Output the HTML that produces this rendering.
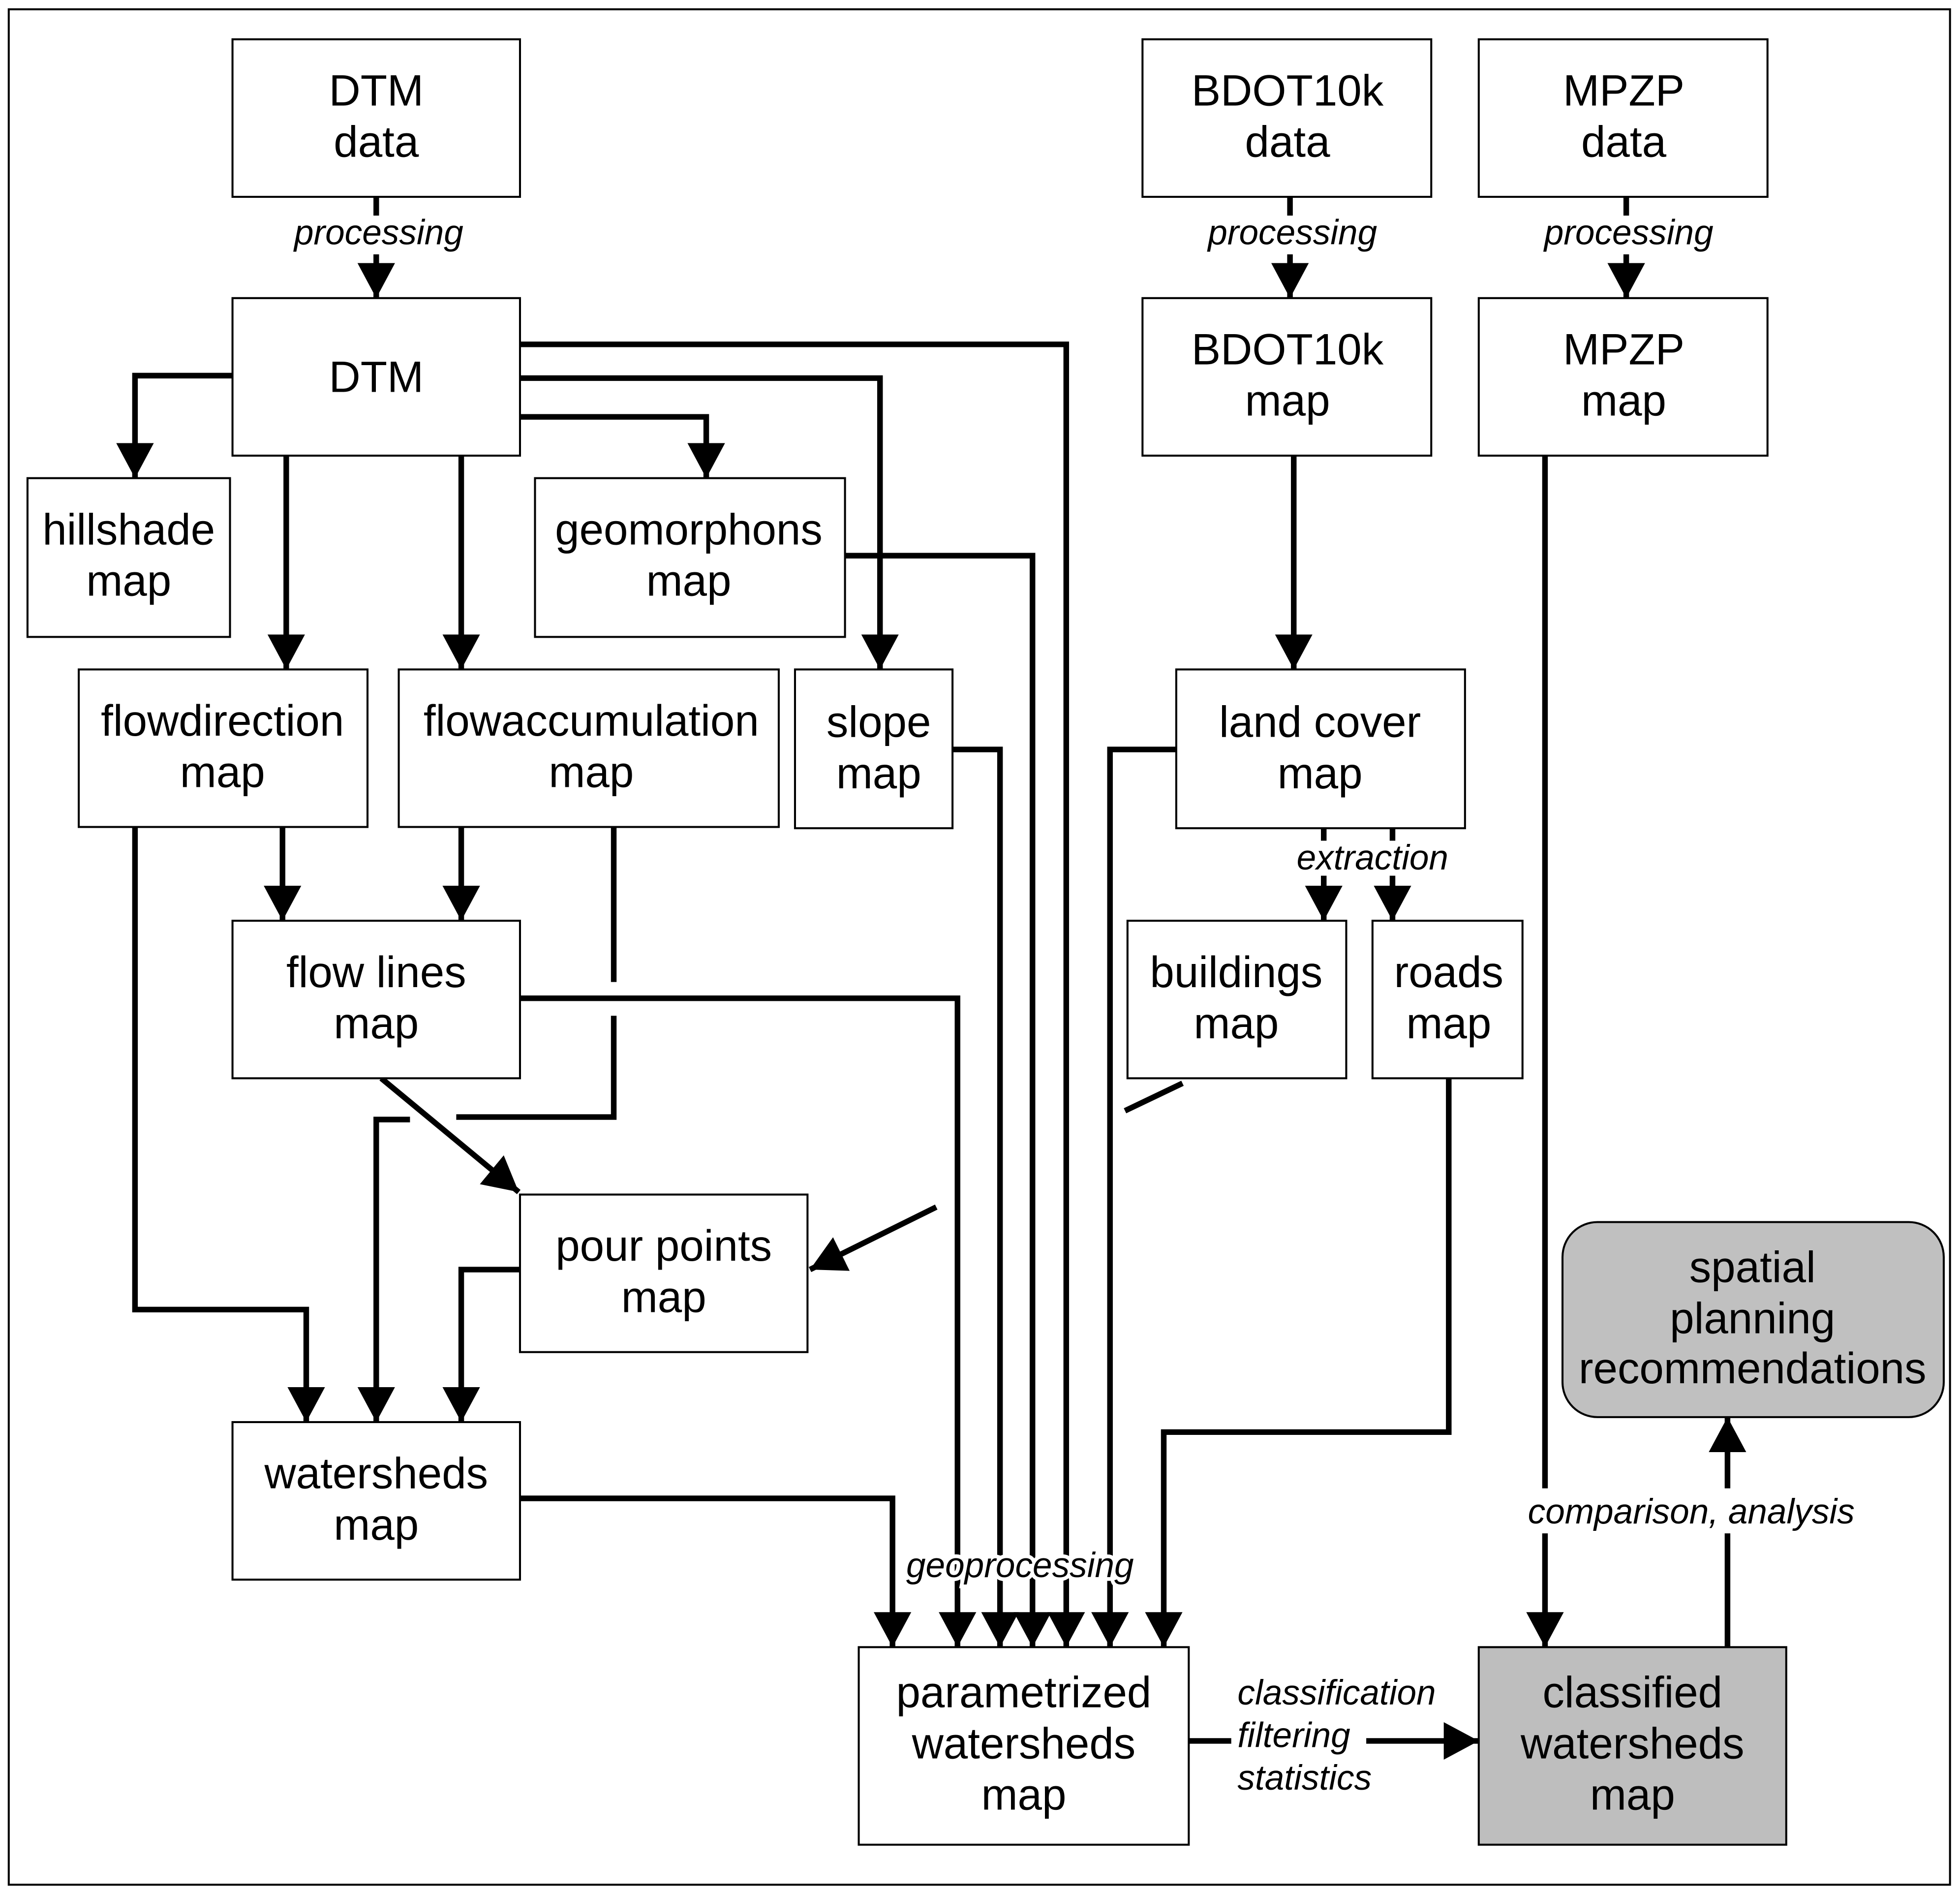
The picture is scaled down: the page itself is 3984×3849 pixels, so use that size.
<!DOCTYPE html>
<html><head><meta charset="utf-8"><style>
html,body{margin:0;padding:0;background:#fff}
svg{display:block}
text{font-family:"Liberation Sans",Arial,sans-serif;fill:#000}
.b{font-size:35px;text-anchor:middle}
.l{font-size:28px;font-style:italic}
.h{stroke:#fff;stroke-width:6px;paint-order:stroke}
.bx{fill:#fff;stroke:#000;stroke-width:1.6}
.ln{fill:none;stroke:#000;stroke-width:4.5;stroke-linejoin:miter;stroke-linecap:butt}
</style></head><body>
<svg width="3984" height="3849" viewBox="0 0 1568 1514" xmlns="http://www.w3.org/2000/svg">
<defs>
<marker id="a" markerUnits="userSpaceOnUse" markerWidth="30" markerHeight="30" refX="28" refY="15" orient="auto" viewBox="0 0 30 30">
<path d="M0,0 L28,15 L0,30 z" fill="#000"/>
</marker>
</defs>
<rect x="0" y="0" width="1568" height="1514" fill="#fff"/>
<rect x="7" y="7" width="1553" height="1500" fill="none" stroke="#000" stroke-width="1.6"/>

<!-- connectors -->
<g class="ln">
<path d="M301,157 V172"/><path d="M301,203 V238" marker-end="url(#a)"/>
<path d="M1032,157 V172"/><path d="M1032,203 V238" marker-end="url(#a)"/>
<path d="M1301,157 V172"/><path d="M1301,203 V238" marker-end="url(#a)"/>

<path d="M186,300 H108 V382" marker-end="url(#a)"/>
<path d="M229,364 V535" marker-end="url(#a)"/>
<path d="M369,364 V535" marker-end="url(#a)"/>
<path d="M416,333 H565 V382" marker-end="url(#a)"/>
<path d="M416,302 H704 V535" marker-end="url(#a)"/>
<path d="M416,275 H853 V1317" marker-end="url(#a)"/>
<path d="M676,444 H826 V1317" marker-end="url(#a)"/>
<path d="M762,599 H800 V1317" marker-end="url(#a)"/>
<path d="M416,798 H766 V1317" marker-end="url(#a)"/>
<path d="M416,1198 H714 V1317" marker-end="url(#a)"/>
<path d="M941,599 H888 V1317" marker-end="url(#a)"/>
<path d="M1159,862 V1145 H931 V1317" marker-end="url(#a)"/>

<path d="M1035,364 V535" marker-end="url(#a)"/>
<path d="M1059,662 V672"/><path d="M1059,700 V736" marker-end="url(#a)"/>
<path d="M1114,662 V672"/><path d="M1114,700 V736" marker-end="url(#a)"/>

<path d="M1236,364 V1190"/><path d="M1236,1226 V1317" marker-end="url(#a)"/>
<path d="M1382,1317 V1226"/><path d="M1382,1190 V1133" marker-end="url(#a)"/>

<path d="M951,1392 H985"/><path d="M1093,1392 H1183" marker-end="url(#a)"/>

<path d="M108,661 V1047 H245 V1137" marker-end="url(#a)"/>
<path d="M226,661 V736" marker-end="url(#a)"/>
<path d="M369,661 V736" marker-end="url(#a)"/>
<path d="M491,661 V785"/>
<path d="M491,812 V893 H365"/>
<path d="M328,895 H301 V1137" marker-end="url(#a)"/>
<path d="M305,862 L415,953" marker-end="url(#a)"/>
<path d="M416,1015 H369 V1137" marker-end="url(#a)"/>
<path d="M946,866 L900,888"/>
<path d="M749,965 L648,1015" marker-end="url(#a)"/>
</g>

<!-- boxes -->
<rect class="bx" x="186" y="31" width="230" height="126"/>
<text class="b" x="301" y="84">DTM</text><text class="b" x="301" y="125">data</text>
<rect class="bx" x="914" y="31" width="231" height="126"/>
<text class="b" x="1030" y="84">BDOT10k</text><text class="b" x="1030" y="125">data</text>
<rect class="bx" x="1183" y="31" width="231" height="126"/>
<text class="b" x="1299" y="84">MPZP</text><text class="b" x="1299" y="125">data</text>

<rect class="bx" x="186" y="238" width="230" height="126"/>
<text class="b" x="301" y="313">DTM</text>
<rect class="bx" x="914" y="238" width="231" height="126"/>
<text class="b" x="1030" y="291">BDOT10k</text><text class="b" x="1030" y="332">map</text>
<rect class="bx" x="1183" y="238" width="231" height="126"/>
<text class="b" x="1299" y="291">MPZP</text><text class="b" x="1299" y="332">map</text>

<rect class="bx" x="22" y="382" width="162" height="127"/>
<text class="b" x="103" y="435">hillshade</text><text class="b" x="103" y="476">map</text>
<rect class="bx" x="428" y="382" width="248" height="127"/>
<text class="b" x="551" y="435">geomorphons</text><text class="b" x="551" y="476">map</text>

<rect class="bx" x="63" y="535" width="231" height="126"/>
<text class="b" x="178" y="588">flowdirection</text><text class="b" x="178" y="629">map</text>
<rect class="bx" x="319" y="535" width="304" height="126"/>
<text class="b" x="473" y="588">flowaccumulation</text><text class="b" x="473" y="629">map</text>
<rect class="bx" x="636" y="535" width="126" height="127"/>
<text class="b" x="703" y="589">slope</text><text class="b" x="703" y="630">map</text>
<rect class="bx" x="941" y="535" width="231" height="127"/>
<text class="b" x="1056" y="589">land cover</text><text class="b" x="1056" y="630">map</text>

<rect class="bx" x="186" y="736" width="230" height="126"/>
<text class="b" x="301" y="789">flow lines</text><text class="b" x="301" y="830">map</text>
<rect class="bx" x="902" y="736" width="175" height="126"/>
<text class="b" x="989" y="789">buildings</text><text class="b" x="989" y="830">map</text>
<rect class="bx" x="1098" y="736" width="120" height="126"/>
<text class="b" x="1159" y="789">roads</text><text class="b" x="1159" y="830">map</text>

<rect class="bx" x="416" y="955" width="230" height="126"/>
<text class="b" x="531" y="1008">pour points</text><text class="b" x="531" y="1049">map</text>
<rect class="bx" x="186" y="1137" width="230" height="126"/>
<text class="b" x="301" y="1190">watersheds</text><text class="b" x="301" y="1231">map</text>

<rect x="1250" y="977" width="305" height="156" rx="28" ry="28" fill="#c0c0c0" stroke="#000" stroke-width="1.6"/>
<text class="b" x="1402" y="1025">spatial</text><text class="b" x="1402" y="1066">planning</text><text class="b" x="1402" y="1106">recommendations</text>

<rect class="bx" x="687" y="1317" width="264" height="158"/>
<text class="b" x="819" y="1365">parametrized</text><text class="b" x="819" y="1406">watersheds</text><text class="b" x="819" y="1447">map</text>
<rect x="1183" y="1317" width="246" height="158" fill="#bebebe" stroke="#000" stroke-width="1.6"/>
<text class="b" x="1306" y="1365">classified</text><text class="b" x="1306" y="1406">watersheds</text><text class="b" x="1306" y="1447">map</text>

<!-- labels -->
<text class="l" x="303" y="195" text-anchor="middle">processing</text>
<text class="l" x="1034" y="195" text-anchor="middle">processing</text>
<text class="l" x="1303" y="195" text-anchor="middle">processing</text>
<text class="l" x="1098" y="695" text-anchor="middle">extraction</text>
<text class="l" x="1353" y="1218" text-anchor="middle">comparison, analysis</text>
<text class="l h" x="816" y="1261" text-anchor="middle">geoprocessing</text>
<text class="l" x="990" y="1363">classification</text>
<text class="l" x="990" y="1397">filtering</text>
<text class="l" x="990" y="1431">statistics</text>
</svg>
</body></html>
